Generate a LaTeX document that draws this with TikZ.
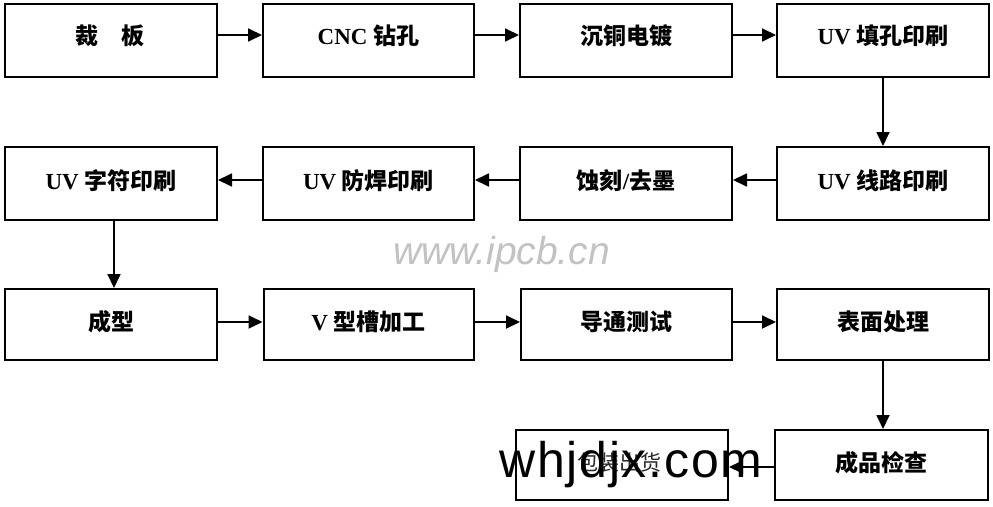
\documentclass[tikz,border=0pt]{standalone}
\usepackage{fontspec}
\setmainfont{Liberation Serif}
\newfontfamily\cjk{Noto Sans CJK SC}
\newfontfamily\wmfont{Liberation Sans}
\newfontfamily\wmfontsp{Liberation Sans}[LetterSpace=3.5]
\usetikzlibrary{arrows.meta}
\tikzset{
  box/.style={draw=black, line width=2pt, rectangle, inner sep=0pt, fill=none},
  lab/.style={inner sep=0pt, font=\bfseries\fontsize{23}{26}\selectfont},
  labr/.style={inner sep=0pt, font=\fontsize{21}{24}\selectfont, text=black!85},
  arr/.style={line width=1.8pt, -{Triangle[length=14pt,width=13pt]}},
}
\begin{document}
\begin{tikzpicture}[x=1pt,y=-1pt]
\useasboundingbox (0,0) rectangle (993,506);
% row 1 (4-77)
\node[box, minimum width=212pt, minimum height=73pt] (b1) at (111,40.5) {};
\node[box, minimum width=211pt, minimum height=73pt] (b2) at (368.5,40.5) {};
\node[box, minimum width=212pt, minimum height=73pt] (b3) at (626,40.5) {};
\node[box, minimum width=212pt, minimum height=73pt] (b4) at (883,40.5) {};
% row 2 (147-220)
\node[box, minimum width=212pt, minimum height=73pt] (b8) at (111,183.5) {};
\node[box, minimum width=211pt, minimum height=73pt] (b7) at (368.5,183.5) {};
\node[box, minimum width=212pt, minimum height=73pt] (b6) at (626,183.5) {};
\node[box, minimum width=212pt, minimum height=73pt] (b5) at (883,183.5) {};
% row 3 (289-360)
\node[box, minimum width=212pt, minimum height=71pt] (b9) at (111,324.5) {};
\node[box, minimum width=210pt, minimum height=71pt] (b10) at (368.5,324.5) {};
\node[box, minimum width=211pt, minimum height=71pt] (b11) at (626.5,324.5) {};
\node[box, minimum width=212pt, minimum height=71pt] (b12) at (883,324.5) {};
% row 4 (430-500)
\node[box, minimum width=213pt, minimum height=70pt] (b13) at (881.5,465) {};
\node[box, minimum width=212pt, minimum height=70pt] (b14) at (622,465) {};

% labels
\node[lab] (t1) at (110,36) {{\cjk 裁}\hspace{1em}{\cjk 板}};
\node[lab] (t2) at (368.5,36) {CNC {\cjk 钻孔}};
\node[lab] (t3) at (626,36) {{\cjk 沉铜电镀}};
\node[lab] (t4) at (883,36) {UV {\cjk 填孔印刷}};
\node[lab] (t5) at (883,180.5) {UV {\cjk 线路印刷}};
\node[lab] (t6) at (626,180.5) {{\cjk 蚀刻}/{\cjk 去墨}};
\node[lab] (t7) at (368.5,180.5) {UV {\cjk 防焊印刷}};
\node[lab] (t8) at (111,180.5) {UV {\cjk 字符印刷}};
\node[lab] (t9) at (111,321.5) {{\cjk 成型}};
\node[lab] (t10) at (368.5,321.5) {V {\cjk 型槽加工}};
\node[lab] (t11) at (626.5,321.5) {{\cjk 导通测试}};
\node[lab] (t12) at (883,321.5) {{\cjk 表面处理}};
\node[lab] (t13) at (881.5,463) {{\cjk 成品检查}};
\node[labr] (t14) at (619.5,463) {{\cjk 包装出货}};

% connectors
\draw[arr] (b1.east |- 0,35) -- (b2.west |- 0,35);
\draw[arr] (b2.east |- 0,35) -- (b3.west |- 0,35);
\draw[arr] (b3.east |- 0,35) -- (b4.west |- 0,35);
\draw[arr] (b4.south) -- (b5.north);
\draw[arr] (b5.west |- 0,180) -- (b6.east |- 0,180);
\draw[arr] (b6.west |- 0,180) -- (b7.east |- 0,180);
\draw[arr] (b7.west |- 0,180) -- (b8.east |- 0,180);
\draw[arr] ([xshift=3pt]b8.south) -- ([xshift=3pt]b9.north);
\draw[arr] (b9.east |- 0,322) -- (b10.west |- 0,322);
\draw[arr] (b10.east |- 0,322) -- (b11.west |- 0,322);
\draw[arr] (b11.east |- 0,322) -- (b12.west |- 0,322);
\draw[arr] (b12.south) -- (b12.south |- b13.north);
\draw[arr] (b13.west |- 0,467) -- (b14.east |- 0,467);

% watermarks
\node[inner sep=0pt, anchor=base west, text=black!24, font=\wmfont\itshape\fontsize{39}{42}\selectfont] (wm1) at (393,264) {www.ipcb.cn};
\node[inner sep=0pt, anchor=base west, text=black, font=\wmfontsp\fontsize{50}{56}\selectfont] (wm2) at (499,477) {whjdjx.com};
\end{tikzpicture}
\end{document}
